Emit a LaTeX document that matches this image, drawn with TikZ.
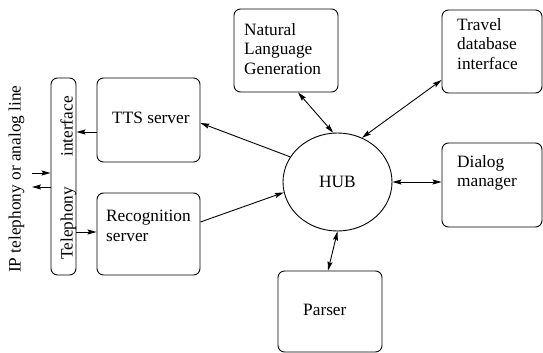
\documentclass[tikz,border=0pt]{standalone}
\usepackage{fontspec}
\setmainfont{Liberation Serif}
\usetikzlibrary{arrows.meta,calc,shapes.geometric}
\begin{document}
\begin{tikzpicture}[x=1pt,y=-1pt,
  every node/.style={font=\fontsize{17.3}{19.5}\selectfont, inner sep=0pt},
  box/.style={draw, line width=0.9pt, rounded corners=6.5pt, rectangle},
  lbl/.style={align=left},
  arr/.style={line width=0.9pt, -{Stealth[length=9pt,width=5pt,inset=1.5pt]}},
  darr/.style={line width=0.9pt, {Stealth[length=9pt,width=5pt,inset=1.5pt]}-{Stealth[length=9pt,width=5pt,inset=1.5pt]}}]
\useasboundingbox (0,0) rectangle (543,353);
% boxes
\node[box, minimum width=25pt, minimum height=197pt] (tel) at (63.5,176.5) {};
\node[box, minimum width=103pt, minimum height=84pt] (tts) at (148.5,120) {};
\node[box, minimum width=103pt, minimum height=82pt] (rec) at (148.5,234) {};
\node[box, minimum width=104pt, minimum height=83pt] (nlg) at (286,50.5) {};
\node[box, minimum width=100pt, minimum height=83pt] (trav) at (492,51.5) {};
\node[box, minimum width=100pt, minimum height=84pt] (dlg) at (492,185) {};
\node[box, minimum width=104pt, minimum height=81pt] (par) at (330,311.5) {};
\node[draw, line width=0.9pt, ellipse, minimum width=109pt, minimum height=98pt] (hub) at (337.5,182) {HUB};
% texts
\node[anchor=base west] (ttst) at (112,123) {TTS server};
\node[lbl, anchor=north west] (rect) at (106,210) {Recognition\\server};
\node[lbl, anchor=north west] (nlgt) at (244,23) {Natural\\Language\\Generation};
\node[lbl, anchor=north west] (travt) at (457,18) {Travel\\database\\interface};
\node[lbl, anchor=north west] (dlgt) at (457,155) {Dialog\\manager};
\node[anchor=base west] (part) at (303,315) {Parser};
\node[rotate=90, anchor=base west] (telt1) at (72.5,260) {Telephony};
\node[rotate=90, anchor=base west] (telt2) at (72.5,157) {interface};
\node[rotate=90, anchor=base west] (ipt) at (20.5,273) {IP telephony or analog line};
% connectors to hub
\draw[arr] (hub.152) -- ([yshift=-3pt]tts.east);
\draw[arr] ([yshift=12pt]rec.east) -- (hub.191);
\draw[darr] ([xshift=12pt]nlg.south) -- (hub.95);
\draw[darr] ([yshift=-28.5pt]trav.west) -- (hub.61);
\draw[darr] (hub.east) -- (hub.east -| dlg.west);
\draw[darr] (hub.south) -- ([xshift=-2pt]par.north);
% telephony connectors
\coordinate (t1) at ([yshift=-12pt]tts.west);
\draw[arr] (t1) -- (t1 -| tel.east);
\coordinate (r1) at ([yshift=2pt]rec.west);
\draw[arr] (r1 -| tel.east) -- (r1);
\coordinate (in1) at (32,173);
\draw[arr] (in1) -- (in1 -| tel.west);
\coordinate (out1) at (32,187);
\draw[arr] (out1 -| tel.west) -- (out1);
\end{tikzpicture}
\end{document}
